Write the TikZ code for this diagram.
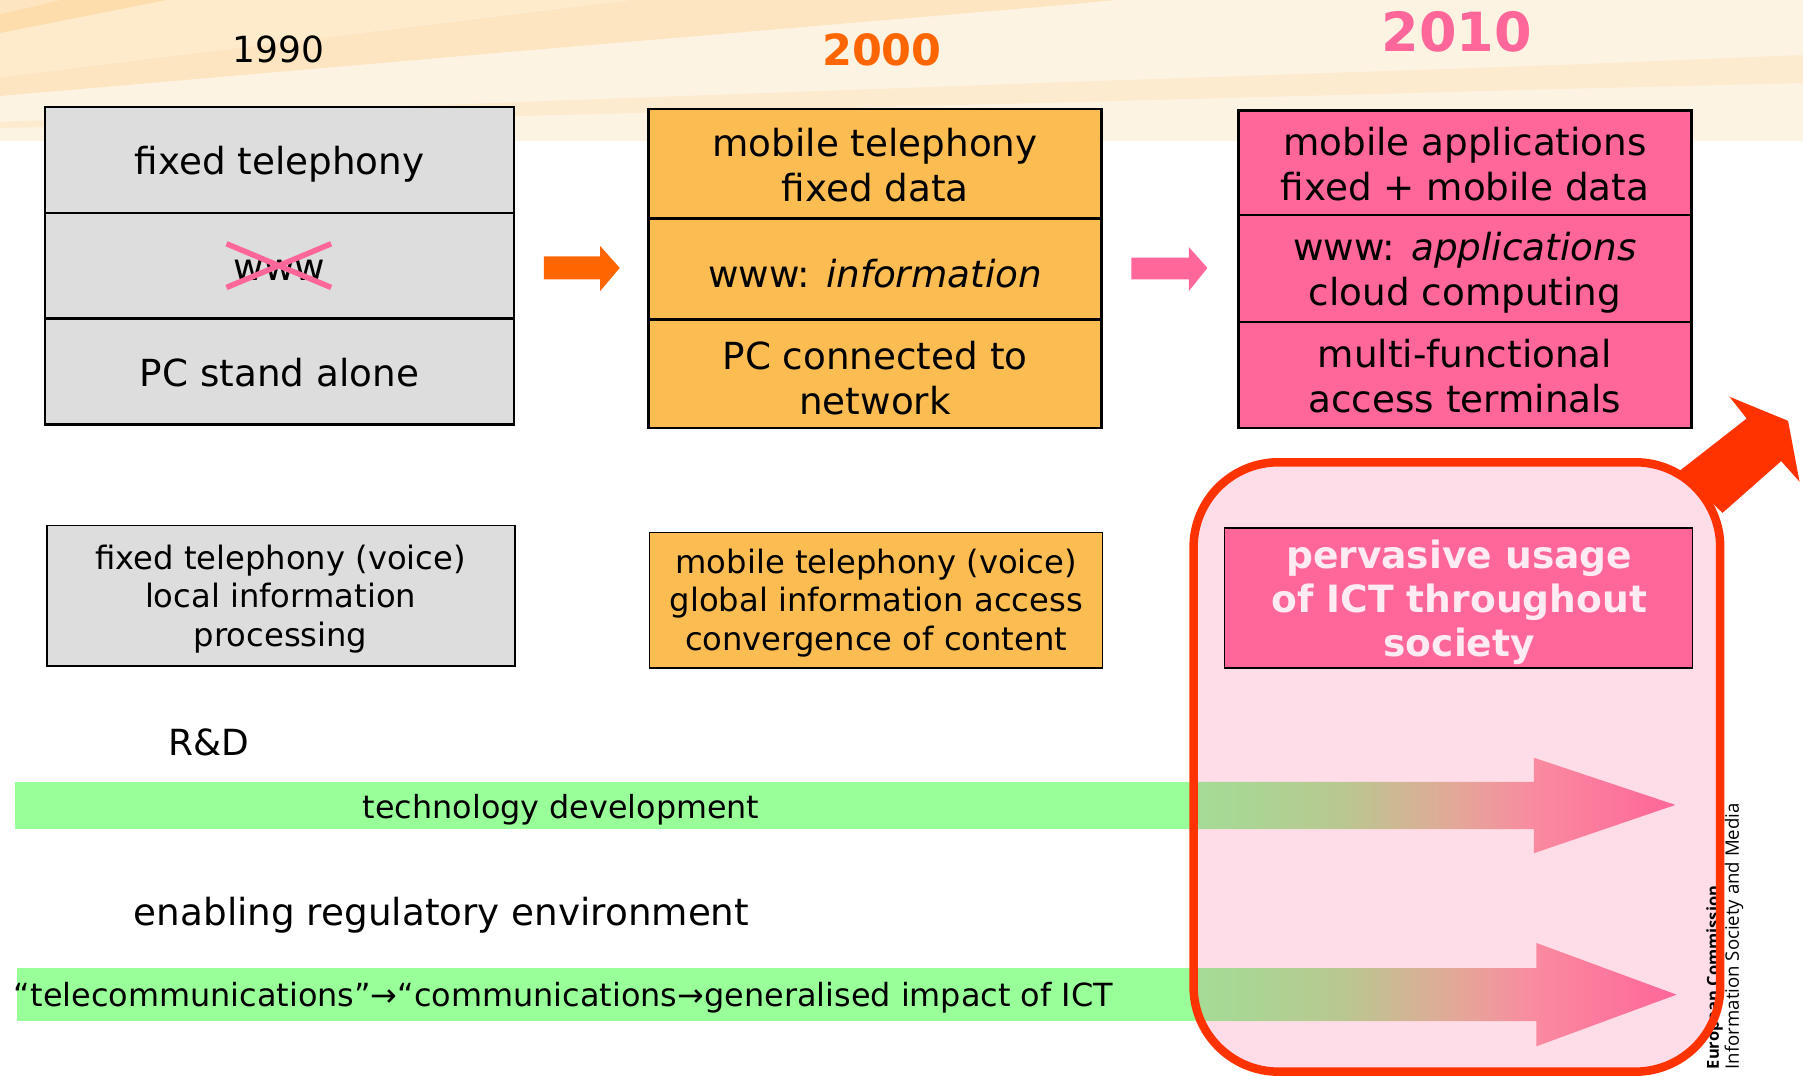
\documentclass[tikz,border=0pt]{standalone}
\usepackage{fontspec}
\setmainfont{DejaVu Sans}
\newfontfamily\sidefont{Open Sans}
\definecolor{bg0}{HTML}{FDF3E2}
\definecolor{bg1}{HTML}{FDEBCC}
\definecolor{bg2}{HTML}{FDE5C1}
\definecolor{bg3}{HTML}{FDDDAB}
\definecolor{bg4}{HTML}{FDEBD0}
\definecolor{cgrey}{HTML}{DDDDDD}
\definecolor{corange}{HTML}{FBBC52}
\definecolor{cpink}{HTML}{FF6699}
\definecolor{dorange}{HTML}{FF6600}
\definecolor{cred}{HTML}{FF3300}
\definecolor{barg}{HTML}{99FF99}
\definecolor{veil}{HTML}{FFDDE8}
\definecolor{gradA}{HTML}{A4DC96}
\definecolor{gradB}{HTML}{B8C890}
\definecolor{gradC}{HTML}{E3A898}
\definecolor{gradD}{HTML}{F98BA0}
\pgfdeclarehorizontalshading{fadearrow}{100bp}{
  color(0bp)=(gradA); color(25bp)=(gradA); color(40bp)=(gradB);
  color(52bp)=(gradC); color(60bp)=(gradD); color(75bp)=(cpink); color(100bp)=(cpink)}
\begin{document}
\begin{tikzpicture}[x=1.15pt,y=-1.15pt,
  big/.style={font=\fontsize{37.3}{45}\selectfont,align=center,inner sep=0pt,text=black},
  mid/.style={font=\fontsize{32.2}{38.5}\selectfont,align=center,inner sep=0pt,text=black},
  cell/.style={draw=black,line width=2.4pt},
  thin box/.style={draw=black,line width=1.5pt},
  bar/.style={fill=barg,draw=none}]
\useasboundingbox (0,0) rectangle (1568,935.65);
% background bands (pixel coordinates)
\begin{scope}[x=1pt,y=-1pt]
\fill[bg0] (0,0) rectangle (1803,141.5);
\fill[bg2] (0,77) -- (630,0) -- (1117,0) -- (1040,7) -- (520,51) -- (0,96) -- cycle;
\fill[bg1] (0,33) -- (167,0) -- (630,0) -- (520,13) -- (0,77) -- cycle;
\fill[bg3] (0,14) -- (60,0) -- (167,0) -- (0,33) -- cycle;
\fill[bg2] (0,0) -- (60,0) -- (0,14) -- cycle;
\fill[bg4] (0,122) -- (520,102) -- (1040,83) -- (1560,65) -- (1803,55) -- (1803,83) -- (1560,89) -- (1040,103) -- (520,116) -- (0,128) -- cycle;
\end{scope}
% headings
\node[big,font=\fontsize{36}{45}\selectfont] (y1990) at (242,43) {1990};
\node[font=\fontsize{43}{50}\selectfont\bfseries,text=dorange,inner sep=0pt] (y2000) at (767,43.5) {2000};
\node[font=\fontsize{54}{60}\selectfont\bfseries,text=cpink,inner sep=0pt] (y2010) at (1267,27.5) {2010};
% 1990 stack
\draw[cell,fill=cgrey] (39,93) rectangle (447,185);
\draw[cell,fill=cgrey] (39,185) rectangle (447,277);
\draw[cell,fill=cgrey] (39,277) rectangle (447,369);
\node[big] (a1) at (243,143) {fixed telephony};
\node[big] (a2) at (243,235) {www};
\node[big] (a3) at (243,324) {PC stand alone};
\draw[cpink,line width=5.5pt] (197,212) -- (288,250);
\draw[cpink,line width=5.5pt] (197,250) -- (288,212);
% 2000 stack
\draw[cell,fill=corange] (564,95) rectangle (958,190);
\draw[cell,fill=corange] (564,190) rectangle (958,278);
\draw[cell,fill=corange] (564,278) rectangle (958,372);
\node[big] (b1) at (761,143.5) {mobile telephony\\fixed data};
\node[big] (b2) at (761,238) {www: \textit{information}};
\node[big] (b3) at (761,328.5) {PC connected to\\network};
% 2010 stack
\draw[cell,fill=cpink] (1077,96) rectangle (1471,187);
\draw[cell,fill=cpink] (1077,187) rectangle (1471,280);
\draw[cell,fill=cpink] (1077,280) rectangle (1471,372);
\node[big] (c1) at (1274,143) {mobile applications\\fixed + mobile data};
\node[big] (c2) at (1274,237.5) {www: \textit{applications}\\cloud computing};
\node[big] (c3) at (1274,327) {multi-functional\\access terminals};
% small arrows
\fill[dorange] (473,223) -- (522,223) -- (522,214) -- (539,233) -- (522,253) -- (522,243) -- (473,243) -- cycle;
\fill[cpink] (984,224) -- (1034,224) -- (1034,215) -- (1050,233) -- (1034,253) -- (1034,243) -- (984,243) -- cycle;
% second row
\draw[thin box,fill=cgrey] (41,457) rectangle (448,579);
\node[mid] (d1) at (244,521) {fixed telephony (voice)\\local information\\processing};
\draw[thin box,fill=corange] (565,463) rectangle (959,581);
\node[mid] (d2) at (762,524.5) {mobile telephony (voice)\\global information access\\convergence of content};
% red arrow and side text
\fill[cred] (1504,345) -- (1555,366) -- (1565,419) -- (1549,401) -- (1498,446) -- (1460,410) -- (1519,364) -- cycle;
\node[rotate=90,anchor=west,font=\sidefont\fontsize{18.6}{20}\selectfont,inner sep=0pt] (s2) at (1508,930) {Information Society and Media};
% veil
\fill[veil,rounded corners=85pt] (1038,402) rectangle (1496,932);
\node[rotate=90,anchor=west,font=\sidefont\fontsize{16.5}{20}\selectfont\bfseries,inner sep=0pt] (s1) at (1491,930) {European Commission};
% bars
\fill[bar] (13,680) rectangle (1040,721);
\fill[bar] (15,842) rectangle (1040,888);
\shade[shading=fadearrow,draw=none]
  (1040,680) -- (1334,680) -- (1334,659) -- (1457,700) -- (1334,742) -- (1334,721) -- (1040,721) -- cycle;
\shade[shading=fadearrow,draw=none]
  (1040,842) -- (1336,842) -- (1336,820) -- (1458,865) -- (1336,910) -- (1336,888) -- (1040,888) -- cycle;
% pink box
\draw[thin box,fill=cpink] (1065,459) rectangle (1472,581);
\node[font=\fontsize{37.6}{44}\selectfont\bfseries,align=center,text=veil!60!white,inner sep=0pt] (e) at (1269,524) {pervasive usage\\of ICT throughout\\society};
% labels
\node[big,font=\fontsize{36}{45}\selectfont] (rd) at (182,646) {R\&D};
\node[mid,font=\fontsize{31.8}{38.5}\selectfont] (td) at (488,704) {technology development};
\node[big] (er) at (384,796) {enabling regulatory environment};
\node[mid,font=\fontsize{31.9}{38.5}\selectfont,anchor=west] (tc) at (12,868) {“telecommunications”→“communications→generalised impact of ICT};
% border
\draw[cred,line width=8.5pt,rounded corners=85pt] (1038,402) rectangle (1496,932);
\end{tikzpicture}
\end{document}
